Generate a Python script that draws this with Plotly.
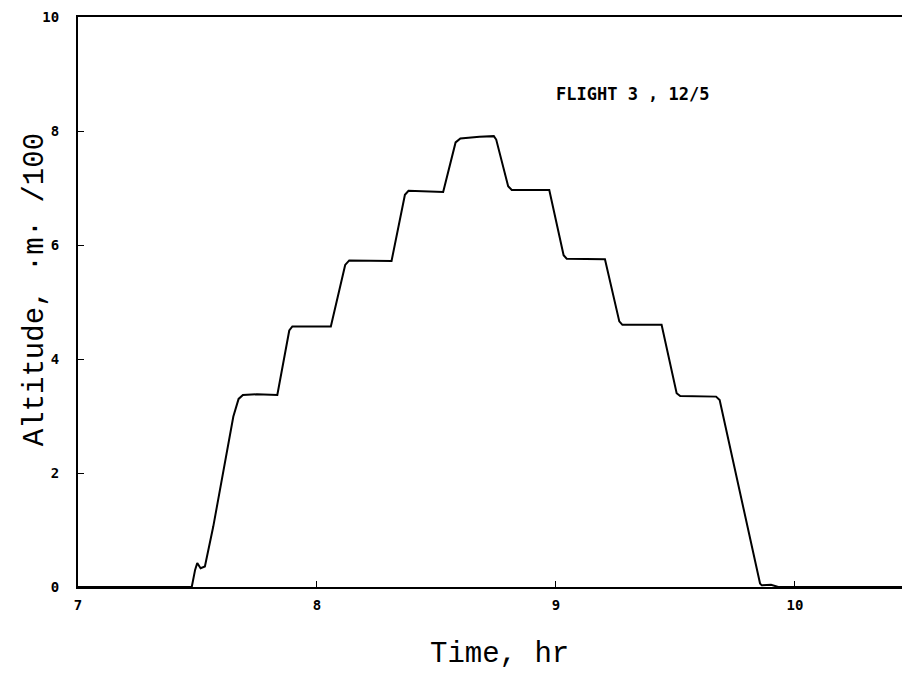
import plotly.graph_objects as go

# Data (time in hr, altitude in m/100)
time_hr = [7.0, 7.476, 7.490, 7.499, 7.513, 7.531, 7.566, 7.650, 7.672, 7.690,
           7.748, 7.834, 7.884, 7.897, 7.970, 8.058, 8.118, 8.135, 8.312, 8.368,
           8.383, 8.528, 8.580, 8.600, 8.680, 8.740, 8.750, 8.800, 8.815, 8.972,
           9.032, 9.045, 9.205, 9.265, 9.278, 9.442, 9.505, 9.520, 9.670, 9.685,
           9.854, 9.861, 9.900, 9.930, 10.448]
altitude = [0.0, 0.0, 0.30, 0.42, 0.33, 0.36, 1.06, 2.99, 3.30, 3.37,
            3.38, 3.37, 4.50, 4.57, 4.57, 4.57, 5.65, 5.73, 5.72, 6.88,
            6.95, 6.93, 7.80, 7.87, 7.90, 7.91, 7.85, 7.03, 6.965, 6.965,
            5.82, 5.76, 5.75, 4.66, 4.60, 4.60, 3.40, 3.35, 3.34, 3.28,
            0.06, 0.03, 0.04, 0.0, 0.0]

x_ticks = [7, 8, 9, 10]
y_ticks = [0, 2, 4, 6, 8, 10]
annotation_text = "FLIGHT 3 , 12/5"
x_title = "Time, hr"
y_title = "Altitude, ·m· /100"

fig = go.Figure()
fig.add_trace(go.Scatter(
    x=time_hr, y=altitude, mode="lines",
    line=dict(color="black", width=2),
    hoverinfo="skip", showlegend=False,
))

fig.add_annotation(
    x=9.322, y=8.65, xref="x", yref="y", text=annotation_text,
    showarrow=False, font=dict(family="DejaVu Sans Mono", size=17, color="black", weight="bold"),
)
fig.add_annotation(
    x=0.512, y=-0.119, xref="paper", yref="paper", text=x_title,
    showarrow=False, xanchor="center", yanchor="middle",
    font=dict(family="Liberation Mono", size=29, color="black"),
)
fig.add_annotation(
    x=-0.052, y=0.521, xref="paper", yref="paper", text=y_title,
    showarrow=False, xanchor="center", yanchor="middle", textangle=-90,
    font=dict(family="Liberation Mono", size=29, color="black"),
)

fig.update_layout(
    width=894, height=665,
    margin=dict(l=70, r=0, t=9, b=86, autoexpand=False),
    paper_bgcolor="white", plot_bgcolor="white",
    showlegend=False,
)
fig.update_xaxes(
    range=[7, 10.448], tickvals=x_ticks, ticktext=[str(v) for v in x_ticks],
    showgrid=False, zeroline=False, automargin=False,
    showline=True, linecolor="black", linewidth=2, mirror=True,
    ticks="inside", ticklen=6, tickwidth=1, tickcolor="black",
    ticklabelstandoff=4,
    tickfont=dict(family="DejaVu Sans Mono", size=14, color="black", weight="bold"),
)
fig.update_yaxes(
    range=[0, 10], tickvals=y_ticks, ticktext=[str(v) for v in y_ticks],
    showgrid=False, zeroline=False, automargin=False,
    showline=True, linecolor="black", linewidth=2,
    ticks="inside", ticklen=6, tickwidth=1, tickcolor="black",
    ticklabelstandoff=14,
    tickfont=dict(family="DejaVu Sans Mono", size=14, color="black", weight="bold"),
)

fig.write_html("out.html")
